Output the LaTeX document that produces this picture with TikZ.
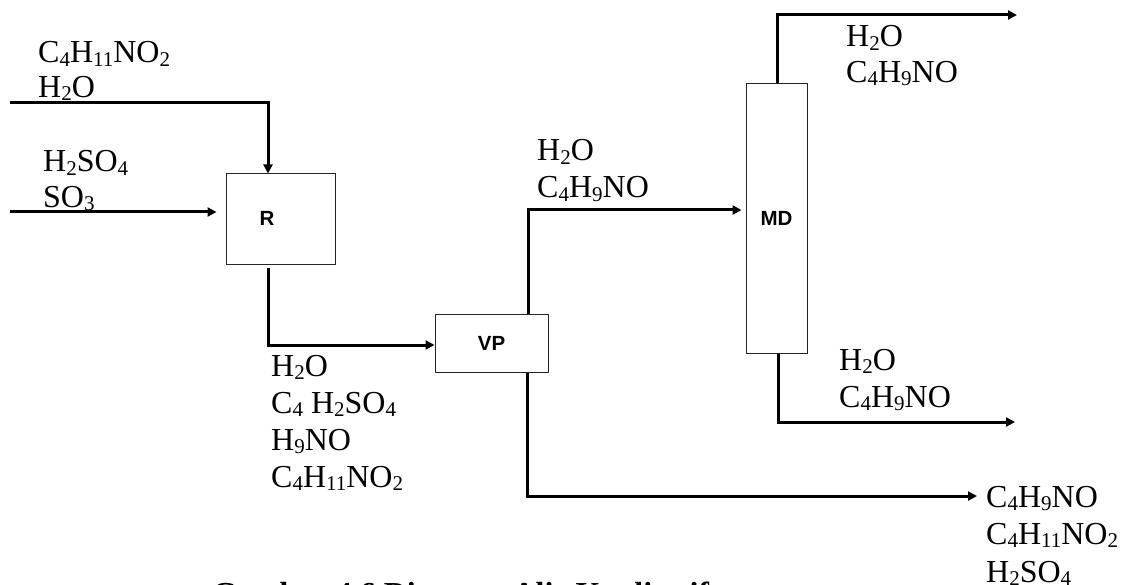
\documentclass[tikz,border=0pt]{standalone}
\usepackage{fontspec}
\setmainfont{Liberation Serif}
\newfontfamily\unitfont{Liberation Sans}
\usetikzlibrary{arrows.meta}
\newcommand\sbs[1]{\raisebox{-0.1em}{\fontsize{21}{21}\selectfont #1}}
\newcommand\blk[2][1]{\renewcommand\arraystretch{#1}\begin{tabular}[t]{@{}l@{}}#2\end{tabular}}
\tikzset{
  unitbox/.style={draw=black!85, line width=1pt, inner sep=0pt, font=\unitfont\bfseries\fontsize{20.5}{22}\selectfont},
  flow/.style={line width=3pt, -{Triangle[length=9pt,width=9pt]}},
  stream/.style={anchor=base west, inner sep=0pt, font=\fontsize{32}{37}\selectfont},
  captext/.style={anchor=base west, inner sep=0pt, font=\bfseries\fontsize{32}{37}\selectfont}
}
\begin{document}
\begin{tikzpicture}[x=1pt,y=-1pt]
\useasboundingbox (0,0) rectangle (1131,585);
% units
\node[unitbox, minimum width=109pt, minimum height=90pt] (R) at (280.5,219) {};
\node[unitbox, draw=none] (Rlab) at (267,218) {R};
\node[unitbox, minimum width=113pt, minimum height=58pt] (VP) at (491.5,343) {VP};
\node[unitbox, minimum width=61pt, minimum height=269pt] (MD) at (776.5,218.5) {MD};
% free ends
\coordinate (f1) at (10,103);
\coordinate (f2) at (10,212);
\coordinate (o1) at (1017,15);
\coordinate (o2) at (1015,422);
\coordinate (o3) at (977,496);
% connectors
\draw[flow] (f1) -| (268,0 |- R.north);
\draw[flow, shorten >=9pt] (f2) -- (R.west |- f2);
\draw[flow, shorten <=3pt] (268,0 |- R.south) |- (VP.west |- 0,345);
\draw[flow, shorten >=4pt] (528,0 |- VP.north) |- (MD.west |- 0,210);
\draw[flow] (527,0 |- VP.south) |- (o3);
\draw[flow] (777,0 |- MD.north) |- (o1);
\draw[flow] (778,0 |- MD.south) |- (o2);
% stream labels
\node[stream] (sA) at (38,63) {\blk[0.92]{C\sbs{4}H\sbs{11}NO\sbs{2}\\ H\sbs{2}O}};
\node[stream] (sB) at (43,172) {\blk[0.95]{H\sbs{2}SO\sbs{4}\\ SO\sbs{3}}};
\node[stream] (sC) at (271,376) {\blk{H\sbs{2}O\\ C\sbs{4} H\sbs{2}SO\sbs{4}\\ H\sbs{9}NO\\ C\sbs{4}H\sbs{11}NO\sbs{2}}};
\node[stream] (sD) at (537,161) {\blk{H\sbs{2}O\\ C\sbs{4}H\sbs{9}NO}};
\node[stream] (sE) at (846,47) {\blk[0.95]{H\sbs{2}O\\ C\sbs{4}H\sbs{9}NO}};
\node[stream] (sF) at (839,370) {\blk{H\sbs{2}O\\ C\sbs{4}H\sbs{9}NO}};
\node[stream] (sG) at (986,507) {\blk[1.02]{C\sbs{4}H\sbs{9}NO\\ C\sbs{4}H\sbs{11}NO\sbs{2}\\ H\sbs{2}SO\sbs{4}}};
% caption (cut by the page edge)
\node[captext] (cap) at (212,604) {Gambar 4.6 Diagram Alir Kualitatif};
\end{tikzpicture}
\end{document}
